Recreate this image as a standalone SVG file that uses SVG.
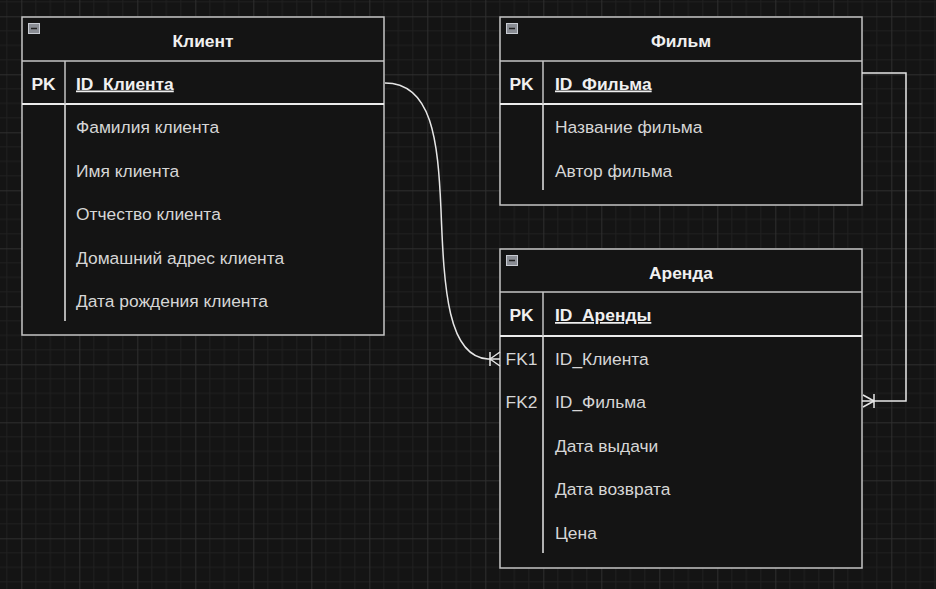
<svg xmlns="http://www.w3.org/2000/svg" width="936" height="589" viewBox="0 0 936 589">
<defs>
<pattern id="grid" x="21.3" y="16.3" width="58" height="58" patternUnits="userSpaceOnUse">
<path d="M14.5 0V58M29 0V58M43.5 0V58M0 14.5H58M0 29H58M0 43.5H58" stroke="#202020" stroke-width="1" fill="none"/>
<path d="M0.5 0V58M0 0.5H58" stroke="#2e2e2e" stroke-width="1" fill="none"/>
</pattern>
</defs>
<style>
.tbl{fill:#141414;stroke:#c4c4c4;stroke-width:1.5}
.sep{stroke:#c4c4c4;stroke-width:1.5}
.pkl{stroke:#ececec;stroke-width:2}
.div{stroke:#e6e6e6;stroke-width:1.5}
.icon{fill:#8a8d94;stroke:#c8cbd2;stroke-width:1}
.title{font-family:"Liberation Sans",Arial,sans-serif;font-size:17.4px;font-weight:bold;fill:#f0f0f0;text-anchor:middle}
.key{font-family:"Liberation Sans",Arial,sans-serif;font-size:17.4px;font-weight:bold;fill:#f0f0f0;text-anchor:middle}
.pk{font-family:"Liberation Sans",Arial,sans-serif;font-size:17.4px;font-weight:bold;fill:#f0f0f0;text-decoration:underline}
.fk{font-family:"Liberation Sans",Arial,sans-serif;font-size:17.4px;fill:#d6d6d6;text-anchor:middle}
.fld{font-family:"Liberation Sans",Arial,sans-serif;font-size:17.4px;fill:#d6d6d6}
.conn{fill:none;stroke:#e6e6e6;stroke-width:1.5}
</style>
<rect width="936" height="589" fill="#141414"/>
<rect width="936" height="589" fill="url(#grid)"/>

<g id="client">
<rect class="tbl" x="22" y="17" width="362" height="318"/>
<line class="sep" x1="22" y1="61" x2="384" y2="61"/>
<line class="pkl" x1="22" y1="104" x2="384" y2="104"/>
<line class="sep" x1="65" y1="61" x2="65" y2="104"/>
<line class="div" x1="65" y1="104" x2="65" y2="321"/>
<rect class="icon" x="28.5" y="23.5" width="11" height="10"/>
<line x1="31" y1="28.5" x2="37" y2="28.5" stroke="#222" stroke-width="1.5"/>
<text class="title" x="203" y="47">Клиент</text>
<text class="key" x="43.5" y="89.5">PK</text>
<text class="pk" x="76" y="89.5">ID_Клиента</text>
<text class="fld" x="76" y="133">Фамилия клиента</text>
<text class="fld" x="76" y="176.5">Имя клиента</text>
<text class="fld" x="76" y="220">Отчество клиента</text>
<text class="fld" x="76" y="263.5">Домашний адрес клиента</text>
<text class="fld" x="76" y="307">Дата рождения клиента</text>
</g>

<g id="film">
<rect class="tbl" x="500" y="17" width="362" height="188"/>
<line class="sep" x1="500" y1="61" x2="862" y2="61"/>
<line class="pkl" x1="500" y1="104" x2="862" y2="104"/>
<line class="sep" x1="543" y1="61" x2="543" y2="104"/>
<line class="div" x1="543" y1="104" x2="543" y2="190"/>
<rect class="icon" x="506.5" y="23.5" width="11" height="10"/>
<line x1="509" y1="28.5" x2="515" y2="28.5" stroke="#222" stroke-width="1.5"/>
<text class="title" x="681" y="47">Фильм</text>
<text class="key" x="521.5" y="89.5">PK</text>
<text class="pk" x="555" y="89.5">ID_Фильма</text>
<text class="fld" x="555" y="133">Название фильма</text>
<text class="fld" x="555" y="176.5">Автор фильма</text>
</g>

<g id="rent">
<rect class="tbl" x="500" y="249" width="362" height="319"/>
<line class="sep" x1="500" y1="292" x2="862" y2="292"/>
<line class="pkl" x1="500" y1="336" x2="862" y2="336"/>
<line class="sep" x1="543" y1="292" x2="543" y2="336"/>
<line class="div" x1="543" y1="336" x2="543" y2="553"/>
<rect class="icon" x="506.5" y="255.5" width="11" height="10"/>
<line x1="509" y1="260.5" x2="515" y2="260.5" stroke="#222" stroke-width="1.5"/>
<text class="title" x="681" y="278.5">Аренда</text>
<text class="key" x="521.5" y="321">PK</text>
<text class="pk" x="555" y="321">ID_Аренды</text>
<text class="fk" x="521.5" y="365">FK1</text>
<text class="fld" x="555" y="365">ID_Клиента</text>
<text class="fk" x="521.5" y="408">FK2</text>
<text class="fld" x="555" y="408">ID_Фильма</text>
<text class="fld" x="555" y="452">Дата выдачи</text>
<text class="fld" x="555" y="495">Дата возврата</text>
<text class="fld" x="555" y="538.5">Цена</text>
</g>

<g id="connectors">
<path class="conn" d="M385 83C432 83 438 140 441 210C444 290 448 357 488 359L500 359"/>
<path d="M490 352V366M490 359L500 352M490 359L500 366" class="conn"/>
<path class="conn" d="M862 73H906V401H862"/>
<path d="M874 394V408M874 401L863 395M874 401L863 407" class="conn"/>
</g>
</svg>
